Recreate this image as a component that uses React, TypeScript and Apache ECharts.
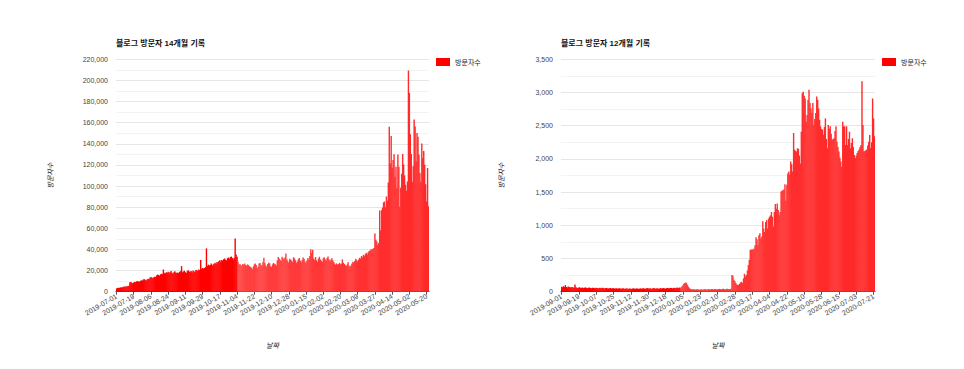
import React, { useEffect, useRef } from "react";
import * as echarts from "echarts";

// ---------- data ----------
const leftTitle = "블로그 방문자 14개월 기록";
const rightTitle = "블로그 방문자 12개월 기록";
const seriesName = "방문자수";
const xName = "날짜";
const leftStart = "2019-07-01";
const rightStart = "2019-09-01";

// daily visitors, 2019-07-01 ..
const leftVisitors = [
  3100, 3500, 3800, 3600, 3900, 4200, 4000,
  4600, 4800, 5000, 4700, 5100, 5300, 5600,
  8900, 9200, 8400, 8100, 8700, 9300, 9000,
  9800, 10100, 9600, 9400, 10200, 10800, 10500,
  11500, 11900, 11200, 10700, 11600, 12200, 11800,
  13200, 13800, 13400, 12800, 13600, 14100, 13900,
  15400, 16200, 15800, 15100, 16400, 17000, 16600,
  21000, 17800, 17200, 18300, 17900, 18800, 17500,
  18600, 19700, 17900, 17300, 18500, 19300, 18100,
  17800, 18200, 17600, 18900, 19400, 24200, 18300,
  19200, 19800, 18400, 17700, 19500, 20300, 19100,
  18800, 19600, 18200, 20100, 19300, 18700, 20600,
  20200, 19500, 21000, 20400, 30100, 21500, 22400,
  21800, 22600, 23100, 41000, 24300, 25600, 24800,
  25300, 26800, 24900, 25700, 26400, 27300, 26100,
  28200, 27600, 28900, 29800, 28400, 30100, 29300,
  30800, 31500, 30200, 29600, 31700, 32400, 31200,
  32800, 33300, 31900, 30600, 32100, 50300, 35200,
  33100, 28400, 25600, 26300, 25100, 24700, 26200,
  25800, 26700, 25300, 24600, 25900, 25200, 24100,
  23500, 22800, 21300, 23800, 25900, 26800, 25300,
  22400, 23900, 26600, 27100, 25400, 24600, 27800,
  32100, 27300, 24800, 23600, 26200, 27500, 26900,
  24100, 23300, 25800, 27200, 26400, 25900, 24700,
  29600, 32800, 31400, 30200, 29100, 33200, 31600,
  30400, 32300, 36100, 30800, 28900, 27600, 31200,
  30300, 29400, 28100, 32600, 31500, 29800, 27300,
  28600, 30700, 31900, 29200, 27800, 30100, 32400,
  31100, 28700, 27400, 29600, 31800, 30500, 33700,
  40100, 36300, 39800, 31400, 30200, 32800, 29600,
  28500, 31300, 33100, 30600, 29400, 28200, 31700,
  32600, 30800, 29300, 31900, 33400, 30700, 28800,
  30300, 31600, 29700, 28100, 26400, 25300, 26800,
  25700, 26100, 27300, 25900, 26600, 30600, 27400,
  26200, 25100, 24300, 25800, 27900, 24600, 23800,
  24900, 26700, 28300, 27600, 29100, 31200, 29800,
  28700, 30400, 32100, 31300, 33800, 32600, 34900,
  33700, 35600, 36800, 35100, 37300, 38600, 39100,
  40200, 39800, 40600, 41300, 55200, 49100, 47600,
  44300, 46200, 76800, 58100, 77200, 79600, 84600,
  85400, 79800, 90100, 86200, 103400, 156200, 121300,
  147300, 117400, 124600, 130200, 108700, 118300, 97900,
  129800, 118200, 80400, 98300, 111600, 130400, 120500,
  110100, 101200, 95600, 104300, 209400, 188200, 149100,
  130300, 104200, 118700, 163100, 156300, 123600, 150200,
  146800, 129700, 112400, 104100, 140300, 126400, 133100,
  120200, 101800, 85400, 117200, 81000,
];

// daily visitors, 2019-09-01 ..
const rightVisitors = [
  75, 68, 82, 70, 100, 72, 65,
  78, 70, 62, 66, 71, 64, 58,
  110, 68, 60, 57, 63, 66, 55,
  58, 62, 54, 60, 65, 57, 52,
  59, 63, 56, 51, 58, 61, 55,
  53, 60, 57, 50, 56, 59, 52,
  54, 58, 51, 49, 55, 57, 50,
  48, 53, 55, 47, 51, 54, 46,
  49, 52, 45, 48, 53, 50, 44,
  47, 51, 46, 43, 50, 49, 45,
  46, 50, 44, 42, 48, 51, 43,
  45, 49, 47, 42, 46, 50, 44,
  48, 52, 46, 43, 49, 55, 47,
  50, 53, 45, 44, 51, 56, 48,
  46, 52, 49, 43, 50, 54, 47,
  51, 55, 48, 46, 53, 57, 50,
  52, 58, 54, 49, 56, 60, 53,
  57, 62, 55, 58, 64, 60, 78,
  95, 118, 132, 140, 125, 98, 70,
  52, 41, 36, 33, 38, 35, 30,
  34, 37, 32, 29, 35, 38, 33,
  31, 36, 40, 34, 30, 37, 39,
  33, 35, 41, 36, 32, 38, 40,
  35, 33, 39, 42, 37, 34, 40,
  43, 38, 35, 41, 44, 39, 36,
  42, 45, 250, 240, 180, 160, 130,
  110, 100, 105, 120, 140, 150, 130,
  200, 270, 230, 250, 320, 400, 480,
  630, 630, 640, 630, 650, 700, 820,
  790, 700, 850, 880, 800, 830, 1060,
  950, 900, 1050, 1080, 950, 1100, 1130,
  1150, 1200, 1130, 980, 1200, 1320, 1250,
  1330, 1230, 1150, 1200, 1510, 1520, 1530,
  1540, 1620, 1370, 1610, 1780, 1810, 1760,
  1960, 1920, 1810, 2390, 2140, 2120, 2110,
  2160, 2150, 2050, 1930, 2410, 2990, 3010,
  2950, 2910, 2560, 2660, 2890, 3040, 2840,
  2760, 2690, 2840, 2510, 2600, 2690, 2940,
  2890, 2760, 2590, 2490, 2450, 2440, 2360,
  2480, 2610, 2300, 2160, 2510, 2450, 2490,
  2380, 2290, 2300, 2310, 2420, 2490, 2260,
  2180, 2110, 2020, 1960, 1880, 2560, 2490,
  2490, 2210, 2490, 2210, 2300, 2410, 2160,
  2240, 2310, 2180, 2060, 2010, 2050, 2090,
  2120, 2140, 2180, 2210, 3170, 2510, 2110,
  2120, 2130, 2140, 2200, 2260, 2360, 2160,
  2250, 2910, 2610, 2340,
];

const leftMax = 220000;
const leftStep = 20000;
const rightMax = 3500;
const rightStep = 500;

// ---------- helpers ----------
function makeDates(start: string, n: number): string[] {
  const [y, m, d] = start.split("-").map(Number);
  const out: string[] = [];
  for (let i = 0; i < n; i++) {
    const dt = new Date(Date.UTC(y, m - 1, d + i));
    out.push(dt.toISOString().slice(0, 10));
  }
  return out;
}

function mix(a: number[], b: number[], t: number) {
  const c = a.map((v, i) => Math.round(v + (b[i] - v) * t));
  return `rgb(${c[0]},${c[1]},${c[2]})`;
}

function colorFn(split: number, n: number, from: number[], to: number[]) {
  return (p: any) => {
    const i = p.dataIndex;
    if (i < split) return "#ff0000";
    return mix(from, to, (i - split) / Math.max(1, n - 1 - split));
  };
}

const FONT = '"Liberation Sans", Arial, "Noto Sans CJK KR", sans-serif';

export default function App() {
  const ref = useRef<HTMLDivElement>(null);

  useEffect(() => {
    if (!ref.current) return;
    const chart = echarts.init(ref.current, undefined, { renderer: "svg" });
    const leftDates = makeDates(leftStart, leftVisitors.length);
    const rightDates = makeDates(rightStart, rightVisitors.length);

    const xAxisBase = (gridIndex: number, data: string[]) => ({
      type: "category",
      gridIndex,
      data,
      boundaryGap: true,
      axisLine: { lineStyle: { color: "#333", width: 1 } },
      axisTick: {
        show: true,
        interval: 17,
        alignWithLabel: true,
        length: 3,
        lineStyle: { color: "#555" },
      },
      axisLabel: {
        interval: 17,
        rotate: 30,
        fontSize: 7,
        color: "#444",
        margin: 4,
        fontFamily: FONT,
      },
      splitLine: { show: false },
      name: xName,
      nameLocation: "middle",
      nameGap: 50,
      nameTextStyle: { fontSize: 7, fontStyle: "italic", color: "#222", fontFamily: FONT },
    });

    const yAxisBase = (gridIndex: number, max: number, step: number, gap: number) => ({
      type: "value",
      gridIndex,
      min: 0,
      max,
      interval: step,
      axisLine: { show: false },
      axisTick: { show: false },
      axisLabel: { fontSize: 7, color: "#444", margin: 8, fontFamily: FONT },
      splitLine: { show: true, lineStyle: { color: "#e6e6e6" } },
      minorTick: { show: false, splitNumber: 2 },
      minorSplitLine: { show: true, lineStyle: { color: "#f3f3f3" } },
      name: seriesName,
      nameLocation: "middle",
      nameRotate: 90,
      nameGap: gap,
      nameTextStyle: { fontSize: 7, fontStyle: "italic", color: "#222", fontFamily: FONT },
    });

    const legendBase = (left: number) => ({
      left,
      top: 58,
      padding: 0,
      icon: "rect",
      itemWidth: 14,
      itemHeight: 8,
      selectedMode: false,
      data: [{ name: seriesName, itemStyle: { color: "#ff0000" } }],
      textStyle: { fontSize: 7, color: "#222", fontFamily: FONT },
    });

    const titleBase = (text: string, left: number) => ({
      text,
      left,
      top: 39,
      padding: 0,
      textStyle: { fontSize: 8, fontWeight: "bold", color: "#111", fontFamily: FONT },
    });

    chart.setOption({
      animation: false,
      textStyle: { fontFamily: FONT },
      title: [titleBase(leftTitle, 116), titleBase(rightTitle, 561)],
      legend: [legendBase(436), legendBase(882)],
      grid: [
        { left: 116, top: 59.3, width: 313, height: 232.4 },
        { left: 561, top: 59.3, width: 314, height: 232.4 },
      ],
      xAxis: [xAxisBase(0, leftDates), xAxisBase(1, rightDates)],
      yAxis: [
        yAxisBase(0, leftMax, leftStep, 62),
        yAxisBase(1, rightMax, rightStep, 56),
      ],
      series: [
        {
          type: "bar",
          name: seriesName,
          xAxisIndex: 0,
          yAxisIndex: 0,
          data: leftVisitors,
          barWidth: 1.4,
          itemStyle: {
            color: colorFn(127, leftVisitors.length, [255, 66, 66], [255, 40, 40]),
          },
        },
        {
          type: "bar",
          name: seriesName,
          xAxisIndex: 1,
          yAxisIndex: 1,
          data: rightVisitors,
          barWidth: 1.4,
          itemStyle: {
            color: colorFn(124, rightVisitors.length, [255, 56, 56], [255, 40, 40]),
          },
        },
      ],
    });

    return () => chart.dispose();
  }, []);

  return (
    <div
      ref={ref}
      style={{ position: "absolute", left: 0, top: 0, width: 964, height: 369, background: "#fff" }}
    />
  );
}
